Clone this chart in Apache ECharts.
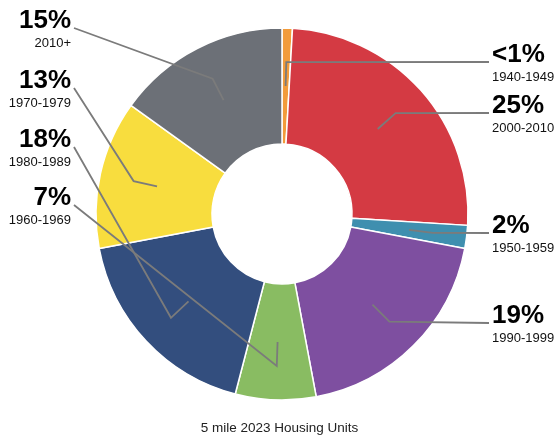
<!DOCTYPE html>
<html>
<head>
<meta charset="utf-8">
<script src="https://cdn.jsdelivr.net/npm/echarts@6/dist/echarts.min.js"></script>
<style>
  html, body { margin: 0; padding: 0; background: #fff; }
  #chart { width: 559px; height: 439px; }
</style>
</head>
<body>
<div id="chart"></div>
<script>
// slices, clockwise from 12 o'clock
const decades = ['1940-1949', '2000-2010', '1950-1959', '1990-1999', '1960-1969', '1980-1989', '1970-1979', '2010+']
const shares = [0.9, 25.1, 2.0, 19.1, 7.0, 18.0, 12.9, 15.1]
const pctLabels = ['<1%', '25%', '2%', '19%', '7%', '18%', '13%', '15%']
const colors = ['#f29b3b', '#d43a43', '#3f8faf', '#7e4fa0', '#89bc62', '#334e7e', '#f8dd3e', '#6c7077']

// label placement: which side, and the y where the leader line ends (text baseline)
const labelSide = ['right', 'right', 'right', 'right', 'left', 'left', 'left', 'left']
const labelLineY = [62, 113, 233, 323, 205, 147, 88, 28]

const CENTER = [282, 214]
const RIGHT_X = 492
const LEFT_X = 71

const chart = echarts.init(document.getElementById('chart'))

const pieData = decades.map((d, i) => ({
  name: d,
  value: shares[i],
  itemStyle: { color: colors[i] },
}))

chart.setOption({
  animation: false,
  title: {
    text: '5 mile 2023 Housing Units',
    left: 'center',
    top: 416,
    textStyle: {
      fontFamily: 'Liberation Sans',
      fontSize: 13.5,
      fontWeight: 'normal',
      color: '#222',
    },
  },
  series: [
    {
      type: 'pie',
      z: 1,
      center: CENTER,
      radius: [70, 186],
      startAngle: 90,
      clockwise: true,
      silent: true,
      label: { show: false },
      labelLine: { show: false },
      itemStyle: { borderColor: '#fff', borderWidth: 1.5 },
      data: pieData,
    },
    {
      // invisible helper ring so leader lines start mid-ring
      type: 'pie',
      z: 5,
      center: CENTER,
      radius: [0, 128],
      startAngle: 90,
      clockwise: true,
      silent: true,
      avoidLabelOverlap: false,
      itemStyle: { color: 'rgba(0,0,0,0)' },
      emphasis: { disabled: true },
      label: {
        show: true,
        position: 'outside',
        fontFamily: 'Liberation Sans',
        formatter: p => '{pct|' + pctLabels[p.dataIndex] + '}\n{yr|' + decades[p.dataIndex] + '}',
        rich: {
          pct: { fontSize: 26, fontWeight: 'bold', color: '#000', lineHeight: 28, fontFamily: 'Liberation Sans' },
          yr: { fontSize: 13, color: '#111', lineHeight: 16, fontFamily: 'Liberation Sans' },
        },
      },
      labelLine: {
        show: true,
        length: 24,
        length2: 10,
        lineStyle: { color: '#7b7b7b', width: 1.8 },
      },
      labelLayout: params => {
        const i = params.dataIndex
        const right = labelSide[i] === 'right'
        const endY = labelLineY[i]
        const pts = params.labelLinePoints
        const out = {
          x: right ? RIGHT_X : LEFT_X,
          y: endY - 21,
          align: right ? 'left' : 'right',
          verticalAlign: 'top',
        }
        if (pts && pts.length >= 2) {
          out.labelLinePoints = [pts[0], pts[1], [right ? RIGHT_X - 3 : LEFT_X + 3, endY]]
        }
        return out
      },
      data: decades.map((d, i) => ({ name: d, value: shares[i] })),
    },
  ],
})
</script>
</body>
</html>
